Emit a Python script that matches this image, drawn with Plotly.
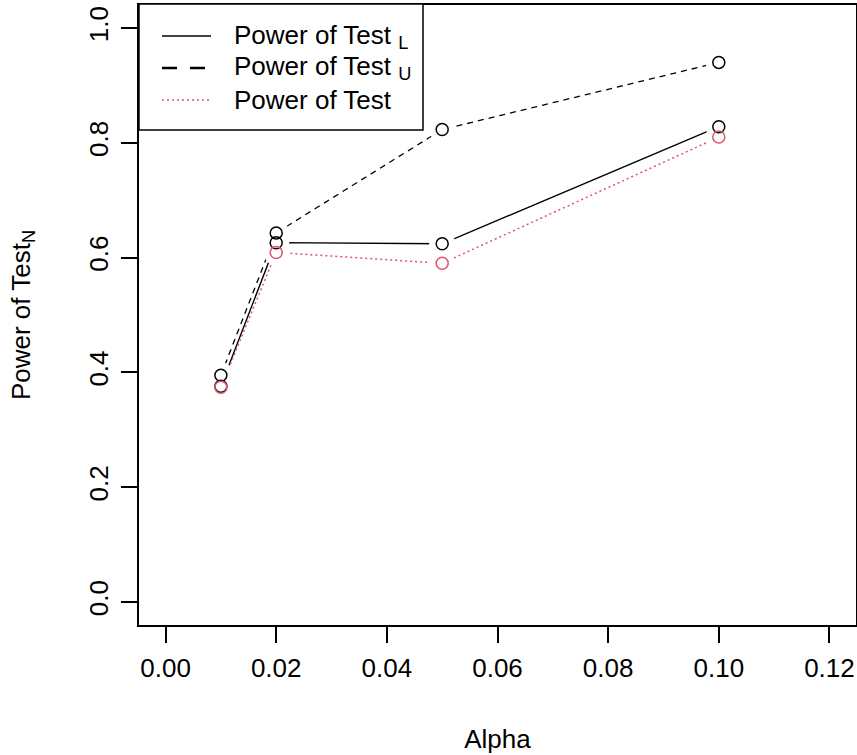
import plotly.graph_objects as go

alpha = [0.01, 0.02, 0.05, 0.10]
power_L = [0.376, 0.626, 0.624, 0.828]
power_U = [0.395, 0.643, 0.823, 0.940]
power_N = [0.374, 0.609, 0.590, 0.810]

x_ticks = [0.00, 0.02, 0.04, 0.06, 0.08, 0.10, 0.12]
x_tick_text = ["0.00", "0.02", "0.04", "0.06", "0.08", "0.10", "0.12"]
y_ticks = [0.0, 0.2, 0.4, 0.6, 0.8, 1.0]
y_tick_text = ["0.0", "0.2", "0.4", "0.6", "0.8", "1.0"]

legend_labels = ["Power of Test <sub>L</sub>", "Power of Test <sub>U</sub>", "Power of Test"]

RED = "#DF536B"
FONT = "Liberation Sans, Arial, sans-serif"
FS = 26

series = [
    (power_L, "black", "solid", 1.4),
    (power_U, "black", "6px,5px", 1.3),
    (power_N, RED, "2px,3px", 1.5),
]

fig = go.Figure()
# lines
for vals, col, dash, w in series:
    fig.add_trace(go.Scatter(x=alpha, y=vals, mode="lines",
                             line=dict(color=col, width=w, dash=dash),
                             showlegend=False, hoverinfo="skip"))
# white gaps around points (R type="b")
for vals, col, dash, w in series:
    fig.add_trace(go.Scatter(x=alpha, y=vals, mode="markers",
                             marker=dict(symbol="circle", size=26, color="white",
                                         line=dict(width=0)),
                             showlegend=False, hoverinfo="skip"))
# open circles
for vals, col, dash, w in series:
    fig.add_trace(go.Scatter(x=alpha, y=vals, mode="markers",
                             marker=dict(symbol="circle-open", size=12, color=col,
                                         line=dict(width=1.5, color=col)),
                             showlegend=False))

# manual R-style legend
L0, W, B0, H = 139, 717, 625, 620
def px(x):
    return (x - L0) / W
def py(y):
    return (B0 - y) / H

shapes = [dict(type="rect", xref="paper", yref="paper",
               x0=px(139), x1=px(423), y0=py(130), y1=py(4),
               line=dict(color="black", width=1.5), fillcolor="white", layer="above")]
leg_styles = [("black", "solid", 1.4), ("black", "15px,13px", 2.6), (RED, "2px,3px", 1.5)]
rows = [36, 68, 100]
annotations = []
for (col, dash, w), ry, lab in zip(leg_styles, rows, legend_labels):
    shapes.append(dict(type="line", xref="paper", yref="paper",
                       x0=px(162), x1=px(211), y0=py(ry), y1=py(ry),
                       line=dict(color=col, width=w, dash=dash), layer="above"))
    annotations.append(dict(xref="paper", yref="paper", x=px(232), y=py(ry),
                            xanchor="left", yanchor="middle", showarrow=False,
                            text=lab, font=dict(family=FONT, size=FS, color="black")))

fig.update_layout(
    width=857, height=755,
    margin=dict(l=139, r=1, t=5, b=130),
    paper_bgcolor="white", plot_bgcolor="white",
    font=dict(family=FONT, size=FS, color="black"),
    shapes=shapes, annotations=annotations,
    xaxis=dict(range=[-0.0048, 0.1248], tickvals=x_ticks, ticktext=x_tick_text,
               showgrid=False, zeroline=False, showline=True, mirror=True,
               linecolor="black", linewidth=1.5, ticks="outside", ticklen=16,
               tickwidth=1.5, tickcolor="black", ticklabelstandoff=3,
               title=dict(text="Alpha", standoff=48, font=dict(size=FS)),
               automargin=False),
    yaxis=dict(range=[-0.04, 1.04], tickvals=y_ticks, ticktext=y_tick_text,
               tickangle=-90,
               showgrid=False, zeroline=False, showline=True, mirror=True,
               linecolor="black", linewidth=1.5, ticks="outside", ticklen=16,
               tickwidth=1.5, tickcolor="black", ticklabelstandoff=3,
               title=dict(text="Power of Test<sub>N</sub>", standoff=46, font=dict(size=FS)),
               automargin=False),
)

fig.write_html("out.html", config={"displayModeBar": False},
               post_script="document.body.style.margin='0px';document.body.style.overflow='hidden';")
